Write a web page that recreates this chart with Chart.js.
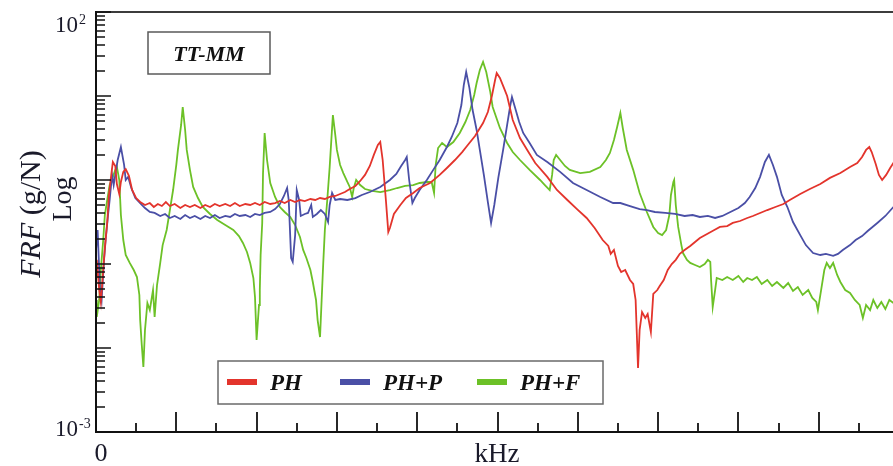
<!DOCTYPE html>
<html>
<head>
<meta charset="utf-8">
<title>FRF TT-MM</title>
<script src="https://cdn.jsdelivr.net/npm/chart.js@4.4.1/dist/chart.umd.min.js"></script>
<style>
  html, body { margin: 0; padding: 0; background: #fff; overflow: hidden; }
  #wrap { width: 910px; height: 466px; }
</style>
</head>
<body>
<div id="wrap"><canvas id="frfChart" width="910" height="466"></canvas></div>
<script>
// Frequency (kHz) and FRF magnitude (g/N) for each configuration
const phFreq = [0.000, 0.001, 0.004, 0.006, 0.009, 0.011, 0.014, 0.016, 0.019, 0.021, 0.024, 0.026, 0.029, 0.031, 0.034, 0.037, 0.041, 0.045, 0.050, 0.055,
  0.061, 0.067, 0.072, 0.077, 0.082, 0.087, 0.092, 0.098, 0.105, 0.111, 0.117, 0.123, 0.130, 0.136, 0.142, 0.148, 0.154, 0.161, 0.167, 0.173,
  0.179, 0.186, 0.192, 0.198, 0.204, 0.210, 0.217, 0.223, 0.229, 0.235, 0.242, 0.248, 0.254, 0.260, 0.267, 0.273, 0.279, 0.285, 0.291, 0.298,
  0.304, 0.310, 0.316, 0.323, 0.329, 0.335, 0.341, 0.346, 0.351, 0.354, 0.357, 0.361, 0.364, 0.366, 0.371, 0.379, 0.386, 0.395, 0.403, 0.416,
  0.428, 0.437, 0.447, 0.456, 0.462, 0.472, 0.482, 0.488, 0.493, 0.497, 0.499, 0.503, 0.508, 0.512, 0.519, 0.528, 0.537, 0.547, 0.562, 0.574,
  0.587, 0.599, 0.611, 0.621, 0.631, 0.638, 0.641, 0.645, 0.650, 0.654, 0.659, 0.665, 0.669, 0.672, 0.675, 0.677, 0.680, 0.684, 0.687, 0.691,
  0.694, 0.699, 0.702, 0.707, 0.712, 0.717, 0.722, 0.727, 0.733, 0.740, 0.746, 0.752, 0.761, 0.770, 0.777, 0.786, 0.793, 0.802, 0.811, 0.818,
  0.827, 0.836, 0.846, 0.856, 0.864, 0.877, 0.889, 0.902, 0.914, 0.927, 0.939, 0.948, 0.954, 0.959, 0.963, 0.966, 0.971, 0.975, 0.979, 0.984,
  0.989, 0.993, 1.000];
const phFrf = [0.0740, 0.112, 0.0490, 0.0353, 0.0848, 0.155, 0.316, 0.645, 1.15, 1.64, 1.47, 0.896, 0.681, 0.947, 1.25, 1.35, 1.12, 0.760, 0.610, 0.547,
  0.504, 0.532, 0.477, 0.518, 0.490, 0.547, 0.490, 0.518, 0.464, 0.504, 0.477, 0.504, 0.464, 0.504, 0.477, 0.518, 0.490, 0.518, 0.490, 0.532,
  0.490, 0.518, 0.504, 0.532, 0.504, 0.547, 0.518, 0.532, 0.562, 0.532, 0.578, 0.547, 0.578, 0.562, 0.594, 0.578, 0.610, 0.594, 0.628, 0.645,
  0.681, 0.719, 0.781, 0.849, 0.973, 1.15, 1.47, 1.99, 2.61, 2.83, 1.73, 0.578, 0.240, 0.268, 0.394, 0.504, 0.610, 0.700, 0.803, 0.921,
  1.15, 1.39, 1.73, 2.15, 2.54, 3.34, 4.77, 6.45, 10.0, 15.5, 18.8, 16.4, 12.5, 10.0, 5.18, 3.16, 2.28, 1.59, 1.09, 0.760,
  0.578, 0.451, 0.353, 0.268, 0.193, 0.164, 0.132, 0.147, 0.0947, 0.0803, 0.0848, 0.0645, 0.0578, 0.0373, 0.00578, 0.0164, 0.0268, 0.0228, 0.0254, 0.0155,
  0.0440, 0.0490, 0.0547, 0.0645, 0.0848, 0.100, 0.112, 0.132, 0.147, 0.164, 0.183, 0.204, 0.228, 0.254, 0.276, 0.283, 0.308, 0.325, 0.353, 0.373,
  0.405, 0.439, 0.477, 0.518, 0.578, 0.681, 0.781, 0.896, 1.06, 1.21, 1.43, 1.59, 1.88, 2.28, 2.47, 2.15, 1.55, 1.15, 1.00, 1.15,
  1.39, 1.59, 2.10];

const phpFreq = [0.000, 0.002, 0.005, 0.007, 0.010, 0.012, 0.015, 0.017, 0.020, 0.022, 0.025, 0.027, 0.031, 0.035, 0.037, 0.040, 0.044, 0.049, 0.055, 0.061,
  0.067, 0.073, 0.080, 0.086, 0.092, 0.098, 0.105, 0.111, 0.117, 0.123, 0.130, 0.136, 0.142, 0.148, 0.154, 0.161, 0.167, 0.173, 0.179, 0.186,
  0.192, 0.198, 0.204, 0.210, 0.217, 0.223, 0.229, 0.234, 0.238, 0.240, 0.243, 0.245, 0.248, 0.250, 0.253, 0.255, 0.260, 0.264, 0.268, 0.270,
  0.275, 0.280, 0.285, 0.289, 0.291, 0.294, 0.298, 0.304, 0.313, 0.323, 0.331, 0.341, 0.354, 0.366, 0.374, 0.380, 0.385, 0.387, 0.390, 0.394,
  0.397, 0.403, 0.412, 0.420, 0.428, 0.437, 0.443, 0.450, 0.455, 0.458, 0.461, 0.465, 0.469, 0.474, 0.478, 0.483, 0.488, 0.492, 0.496, 0.501,
  0.507, 0.512, 0.516, 0.518, 0.522, 0.527, 0.532, 0.540, 0.549, 0.562, 0.578, 0.594, 0.611, 0.628, 0.644, 0.653, 0.665, 0.677, 0.686, 0.696,
  0.709, 0.721, 0.733, 0.743, 0.752, 0.762, 0.771, 0.780, 0.790, 0.800, 0.808, 0.814, 0.821, 0.827, 0.833, 0.838, 0.843, 0.848, 0.854, 0.861,
  0.868, 0.877, 0.884, 0.893, 0.902, 0.909, 0.918, 0.924, 0.930, 0.939, 0.946, 0.954, 0.961, 0.973, 0.983, 0.993, 1.000];
const phpFrf = [0.147, 0.254, 0.0490, 0.0373, 0.112, 0.193, 0.383, 0.578, 1.15, 0.871, 1.32, 1.73, 2.47, 1.51, 1.00, 1.09, 0.803, 0.610, 0.532, 0.464,
  0.416, 0.405, 0.373, 0.394, 0.353, 0.373, 0.343, 0.383, 0.353, 0.373, 0.343, 0.373, 0.353, 0.383, 0.353, 0.373, 0.363, 0.394, 0.373, 0.383,
  0.363, 0.394, 0.383, 0.405, 0.416, 0.451, 0.518, 0.645, 0.803, 0.578, 0.118, 0.106, 0.221, 0.760, 0.578, 0.373, 0.394, 0.405, 0.504, 0.363,
  0.394, 0.439, 0.394, 0.316, 0.504, 0.700, 0.578, 0.594, 0.578, 0.610, 0.663, 0.719, 0.826, 1.00, 1.18, 1.47, 1.73, 1.88, 1.00, 0.532,
  0.610, 0.760, 1.00, 1.32, 1.73, 2.47, 3.25, 4.77, 7.81, 13.5, 19.3, 12.5, 6.81, 3.94, 2.28, 1.15, 0.547, 0.308, 0.504, 1.06,
  2.28, 4.52, 7.81, 9.73, 7.20, 4.90, 3.63, 2.76, 1.99, 1.64, 1.25, 0.921, 0.760, 0.628, 0.532, 0.532, 0.490, 0.451, 0.439, 0.416,
  0.405, 0.394, 0.373, 0.383, 0.363, 0.373, 0.353, 0.373, 0.416, 0.464, 0.532, 0.628, 0.803, 1.09, 1.64, 1.99, 1.51, 1.09, 0.663, 0.477,
  0.316, 0.221, 0.168, 0.135, 0.128, 0.132, 0.125, 0.132, 0.147, 0.168, 0.193, 0.215, 0.247, 0.308, 0.373, 0.477, 0.578];

const phfFreq = [0.000, 0.001, 0.004, 0.006, 0.009, 0.011, 0.014, 0.017, 0.021, 0.024, 0.026, 0.029, 0.031, 0.034, 0.037, 0.042, 0.047, 0.051, 0.054, 0.055,
  0.057, 0.059, 0.061, 0.064, 0.067, 0.071, 0.073, 0.076, 0.080, 0.083, 0.088, 0.092, 0.096, 0.100, 0.102, 0.106, 0.108, 0.111, 0.113, 0.117,
  0.121, 0.127, 0.133, 0.142, 0.151, 0.161, 0.171, 0.178, 0.183, 0.188, 0.192, 0.196, 0.198, 0.200, 0.203, 0.204, 0.205, 0.207, 0.208, 0.210,
  0.213, 0.217, 0.223, 0.229, 0.235, 0.242, 0.248, 0.254, 0.258, 0.262, 0.267, 0.270, 0.274, 0.276, 0.279, 0.281, 0.283, 0.285, 0.288, 0.291,
  0.295, 0.298, 0.300, 0.304, 0.308, 0.313, 0.316, 0.319, 0.321, 0.324, 0.329, 0.335, 0.344, 0.354, 0.366, 0.375, 0.385, 0.395, 0.403, 0.413,
  0.418, 0.421, 0.423, 0.426, 0.431, 0.437, 0.445, 0.453, 0.460, 0.466, 0.471, 0.474, 0.478, 0.482, 0.486, 0.491, 0.494, 0.503, 0.512, 0.519,
  0.528, 0.540, 0.553, 0.559, 0.565, 0.568, 0.570, 0.573, 0.578, 0.584, 0.590, 0.603, 0.615, 0.628, 0.635, 0.640, 0.645, 0.649, 0.653, 0.656,
  0.661, 0.669, 0.677, 0.686, 0.694, 0.700, 0.705, 0.710, 0.714, 0.716, 0.719, 0.720, 0.722, 0.725, 0.729, 0.731, 0.736, 0.740, 0.746, 0.752,
  0.758, 0.762, 0.765, 0.766, 0.768, 0.771, 0.773, 0.780, 0.786, 0.793, 0.800, 0.806, 0.811, 0.817, 0.823, 0.829, 0.836, 0.842, 0.848, 0.856,
  0.862, 0.868, 0.874, 0.880, 0.887, 0.892, 0.897, 0.899, 0.903, 0.907, 0.910, 0.914, 0.918, 0.923, 0.927, 0.933, 0.939, 0.945, 0.951, 0.955,
  0.959, 0.964, 0.968, 0.973, 0.978, 0.983, 0.988, 0.993, 1.000];
const phfFrf = [0.0373, 0.0234, 0.0373, 0.0848, 0.193, 0.383, 0.578, 0.871, 1.09, 1.32, 1.43, 1.00, 0.383, 0.193, 0.128, 0.103, 0.0848, 0.0700, 0.0428, 0.0215,
  0.0109, 0.00594, 0.0164, 0.0343, 0.0283, 0.0490, 0.0234, 0.0562, 0.103, 0.168, 0.254, 0.439, 0.760, 1.51, 2.28, 4.52, 7.40, 3.94, 2.28, 1.32,
  0.826, 0.610, 0.477, 0.394, 0.334, 0.291, 0.254, 0.215, 0.178, 0.139, 0.103, 0.0681, 0.0405, 0.0125, 0.0325, 0.0490, 0.128, 0.308, 1.21, 3.63,
  1.73, 0.921, 0.628, 0.477, 0.416, 0.363, 0.291, 0.210, 0.147, 0.118, 0.0848, 0.0611, 0.0373, 0.0215, 0.0135, 0.0373, 0.103, 0.254, 0.578, 1.43,
  5.94, 3.43, 2.28, 1.51, 1.21, 0.947, 0.826, 0.628, 0.803, 1.00, 0.871, 0.781, 0.740, 0.719, 0.760, 0.803, 0.849, 0.871, 0.921, 0.947,
  0.947, 0.700, 1.51, 2.40, 2.76, 2.47, 2.83, 3.63, 4.90, 6.81, 10.3, 14.3, 20.4, 25.4, 19.3, 11.2, 7.40, 4.16, 2.76, 2.15,
  1.73, 1.32, 1.00, 0.871, 0.760, 1.15, 1.73, 1.99, 1.73, 1.47, 1.32, 1.21, 1.25, 1.43, 1.73, 2.10, 2.99, 4.28, 6.28, 4.16,
  2.28, 1.32, 0.700, 0.416, 0.276, 0.234, 0.221, 0.254, 0.383, 0.663, 0.947, 1.00, 0.504, 0.276, 0.168, 0.135, 0.112, 0.103, 0.0973, 0.0921,
  0.100, 0.112, 0.106, 0.0645, 0.0308, 0.0490, 0.0681, 0.0645, 0.0700, 0.0645, 0.0720, 0.0611, 0.0681, 0.0645, 0.0700, 0.0578, 0.0645, 0.0547, 0.0611, 0.0518,
  0.0594, 0.0477, 0.0532, 0.0428, 0.0490, 0.0394, 0.0353, 0.0283, 0.0490, 0.0848, 0.103, 0.0895, 0.103, 0.0740, 0.0611, 0.0490, 0.0452, 0.0373, 0.0325, 0.0228,
  0.0325, 0.0283, 0.0373, 0.0299, 0.0353, 0.0291, 0.0373, 0.0343, 0.0325];

const seriesNames = ['PH', 'PH+P', 'PH+F'];
const seriesColors = ['#e3342c', '#4a4fa6', '#6cc127'];

// Axis ticks
const xMajorTicks = [0, 0.1, 0.2, 0.3, 0.4, 0.5, 0.6, 0.7, 0.8, 0.9, 1.0];
const xMinorTicks = [0.05, 0.15, 0.25, 0.35, 0.45, 0.55, 0.65, 0.75, 0.85, 0.95];
const xTickLabels = [['0', 0], ['1', 1]];
const yDecades = [0.001, 0.01, 0.1, 1, 10, 100];
const yMinorSteps = [2, 3, 4, 5, 6, 7, 8, 9];
const yTickLabels = [['2', 100], ['-3', 0.001]];
const plotTag = 'TT-MM';

const toPoints = (xs, ys) => xs.map((f, i) => ({ x: f, y: ys[i] }));

const SERIF = '"Liberation Serif", "DejaVu Serif", serif';

// axes, ticks, labels, tag box and legend
const framePlugin = {
  id: 'frame',
  afterDatasetsDraw(chart) {
    const { ctx, chartArea: a } = chart;
    const xs = chart.scales.x, ys = chart.scales.y;
    ctx.save();

    const seg = (x1, y1, x2, y2) => {
      ctx.beginPath(); ctx.moveTo(x1, y1); ctx.lineTo(x2, y2); ctx.stroke();
    };

    // top frame line
    ctx.strokeStyle = '#3c3c3c';
    ctx.lineWidth = 2;
    seg(a.left, a.top, a.right, a.top);
    seg(a.right, a.top, a.right, a.bottom);

    // axes
    ctx.strokeStyle = '#111';
    ctx.lineWidth = 2;
    seg(a.left, a.top - 1, a.left, a.bottom + 1);
    seg(a.left - 1, a.bottom, a.right, a.bottom);

    // x ticks point up into the plot
    ctx.lineWidth = 1.8;
    xMajorTicks.forEach(v => {
      const px = Math.round(xs.getPixelForValue(v));
      seg(px, a.bottom, px, a.bottom - 20);
    });
    xMinorTicks.forEach(v => {
      const px = Math.round(xs.getPixelForValue(v));
      seg(px, a.bottom, px, a.bottom - 9);
    });

    // y ticks point right into the plot
    ctx.lineWidth = 1.5;
    yDecades.forEach(d => {
      const py = Math.round(ys.getPixelForValue(d));
      seg(a.left, py, a.left + 15, py);
      if (d < 100) {
        yMinorSteps.forEach(m => {
          const q = Math.round(ys.getPixelForValue(d * m));
          seg(a.left, q, a.left + 9, q);
        });
      }
    });

    // tick labels
    ctx.fillStyle = '#1a1a2a';
    ctx.textBaseline = 'alphabetic';
    ctx.textAlign = 'center';
    ctx.font = '26px ' + SERIF;
    xTickLabels.forEach(([t, v]) => {
      ctx.fillText(t, xs.getPixelForValue(v) + 5, 461);
    });
    yTickLabels.forEach(([exp, v]) => {
      const py = ys.getPixelForValue(v);
      const base = v > 1 ? py + 20 : py + 4;
      ctx.textAlign = 'right';
      ctx.font = '23px ' + SERIF;
      ctx.fillText('10', 78, base);
      ctx.textAlign = 'left';
      ctx.font = '14px ' + SERIF;
      ctx.fillText(exp, 79, base - 8);
    });

    // axis titles
    ctx.textAlign = 'center';
    ctx.font = '27px ' + SERIF;
    ctx.fillText('kHz', 497, 462);

    ctx.save();
    ctx.translate(40, 214);
    ctx.rotate(-Math.PI / 2);
    ctx.font = 'italic 30px ' + SERIF;
    const w1 = ctx.measureText('FRF').width;
    ctx.font = '30px ' + SERIF;
    const w2 = ctx.measureText(' (g/N)').width;
    ctx.textAlign = 'left';
    ctx.font = 'italic 30px ' + SERIF;
    ctx.fillText('FRF', -(w1 + w2) / 2, 0);
    ctx.font = '30px ' + SERIF;
    ctx.fillText(' (g/N)', -(w1 + w2) / 2 + w1, 0);
    ctx.restore();

    ctx.save();
    ctx.translate(71, 199);
    ctx.rotate(-Math.PI / 2);
    ctx.textAlign = 'center';
    ctx.font = '28px ' + SERIF;
    ctx.fillText('Log', 0, 0);
    ctx.restore();

    // configuration tag
    ctx.fillStyle = '#fff';
    ctx.fillRect(148, 32, 122, 42);
    ctx.strokeStyle = '#5a5a5a';
    ctx.lineWidth = 1.5;
    ctx.strokeRect(148, 32, 122, 42);
    ctx.fillStyle = '#111';
    ctx.font = 'bold italic 22px ' + SERIF;
    ctx.textAlign = 'center';
    ctx.fillText(plotTag, 209, 61);

    // legend
    ctx.fillStyle = '#fff';
    ctx.fillRect(218, 361, 385, 43);
    ctx.strokeStyle = '#6a6a6a';
    ctx.strokeRect(218, 361, 385, 43);
    const itemX = [227, 340, 477];
    ctx.textAlign = 'left';
    ctx.font = 'bold italic 23px ' + SERIF;
    chart.data.datasets.forEach((ds, i) => {
      ctx.strokeStyle = ds.borderColor;
      ctx.lineWidth = 6;
      seg(itemX[i], 382, itemX[i] + 30, 382);
      ctx.fillStyle = '#111';
      ctx.fillText(ds.label, itemX[i] + 43, 390);
    });

    ctx.restore();
  }
};

const frfChart = new Chart(document.getElementById('frfChart').getContext('2d'), {
  type: 'line',
  data: {
    datasets: [
      { label: seriesNames[0], data: toPoints(phFreq, phFrf), borderColor: seriesColors[0] },
      { label: seriesNames[1], data: toPoints(phpFreq, phpFrf), borderColor: seriesColors[1] },
      { label: seriesNames[2], data: toPoints(phfFreq, phfFrf), borderColor: seriesColors[2] }
    ]
  },
  options: {
    responsive: false,
    animation: false,
    events: [],
    layout: { padding: { left: 96, top: 12, right: 11, bottom: 34 } },
    elements: {
      line: { borderWidth: 1.8, tension: 0, fill: false },
      point: { radius: 0 }
    },
    plugins: { legend: { display: false }, tooltip: { enabled: false } },
    scales: {
      x: { type: 'linear', min: 0, max: 1, display: false },
      y: { type: 'logarithmic', min: 0.001, max: 100, display: false }
    }
  },
  plugins: [framePlugin]
});
</script>
</body>
</html>
